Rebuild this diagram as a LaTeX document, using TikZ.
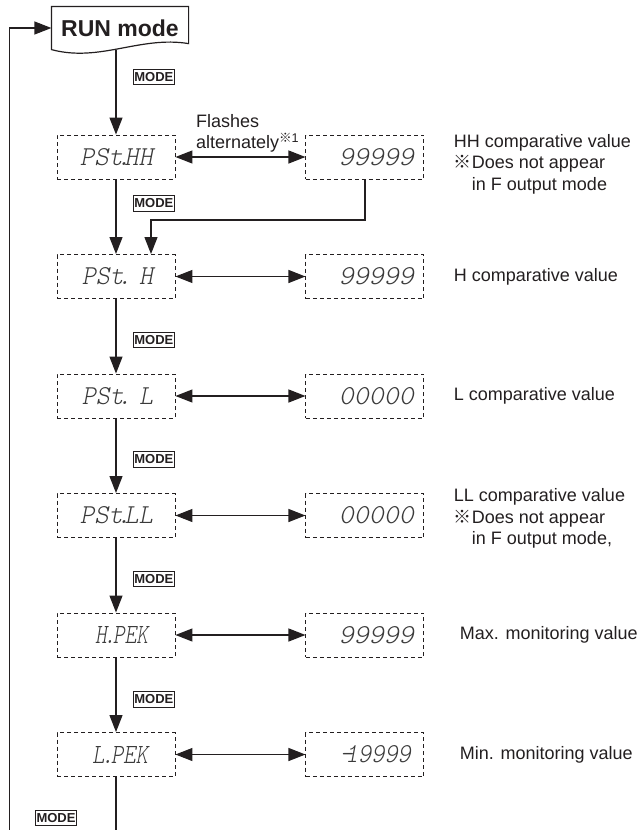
\documentclass[tikz,border=0pt]{standalone}
\usepackage{fontspec}
\usepackage{graphicx}
\setmainfont{Liberation Sans}
\newfontfamily\cjk{Noto Sans CJK JP}
\newfontfamily\segfont{lmmonolt10-regular}[Extension=.otf,FakeSlant=0.2]
\usepackage{tikz}
\usetikzlibrary{arrows.meta,positioning,calc}
\definecolor{ink}{HTML}{231F20}
\definecolor{seg}{HTML}{3A3A3A}
\newcommand{\segdot}[1][6.5pt]{\kern-#1.\kern-#1}
\newcommand{\seg}[2]{\resizebox{#1}{17pt}{#2}}
\newcommand{\segL}[1]{\makebox[74pt][r]{#1}}
\newcommand{\segR}[1]{\makebox[98pt][r]{#1}}

\begin{document}
\begin{tikzpicture}[x=1pt,y=-1pt,color=ink,line width=1.2pt,>={Triangle[length=17pt,width=13pt]}]
\tikzset{disp/.style={draw,dash pattern=on 4pt off 3pt,line width=0.9pt,minimum width=118pt,minimum height=44pt,text=seg,font=\segfont\fontsize{28}{28}\selectfont}, dispL/.style={disp,inner xsep=22pt}, dispR/.style={disp,inner xsep=10pt}, desc/.style={inner sep=0pt,align=left,font=\fontsize{18}{21.5}\selectfont}, modekey/.style={draw,line width=0.8pt,inner xsep=1pt,inner ysep=3pt,font=\bfseries\fontsize{13}{13}\selectfont}}
\useasboundingbox (0,0) rectangle (640,830);
% RUN mode document box
\node[inner sep=0pt,minimum width=136pt,minimum height=42pt,font=\bfseries\fontsize{23}{23}\selectfont] (run) at (120,28) {RUN mode};
\draw (run.north west) -- (run.north east) -- ([yshift=6pt]run.south east) .. controls ([xshift=20pt,yshift=14pt]run.south) and ([xshift=-20pt,yshift=-13pt]run.south) .. (run.south west) -- cycle;
% parameter displays
\node[dispL] (hh) at (116,157) {\segL{\seg{73pt}{PSt\segdot HH}}};
\node[dispL,below=74.6pt of hh] (h) {\segL{\seg{71pt}{PSt\segdot\hphantom{H}H}}};
\node[dispL,below=74.6pt of h] (l) {\segL{\seg{71pt}{PSt\segdot\hphantom{L}L}}};
\node[dispL,below=74.6pt of l] (ll) {\segL{\seg{73pt}{PSt\segdot LL}}};
\node[dispL,below=74.6pt of ll] (hp) {\segL{\seg{53pt}{H\segdot[3.5pt]PEK}\hspace{5pt}}};
\node[dispL,below=74.6pt of hp] (lp) {\segL{\seg{56pt}{L\segdot[3.5pt]PEK}\hspace{5pt}}};
% value displays
\node[dispR,right=130pt of hh] (hhv) {\segR{\seg{75pt}{99999}}};
\node[dispR,right=130pt of h] (hv) {\segR{\seg{75pt}{99999}}};
\node[dispR,right=130pt of l] (lv) {\segR{\seg{75pt}{00000}}};
\node[dispR,right=130pt of ll] (llv) {\segR{\seg{75pt}{00000}}};
\node[dispR,right=130pt of hp] (hpv) {\segR{\seg{75pt}{99999}}};
\node[dispR,right=130pt of lp] (lpv) {\segR{\seg{71pt}{-\kern-9pt19999}\hspace{3pt}}};
% descriptions
\node[desc,yshift=-7pt,right=29pt of hhv] (dhh) {HH comparative value\\{\cjk ※}Does not appear\\\phantom{\cjk ※}in F output mode};
\node[desc,right=29pt of hv] (dh) {H comparative value};
\node[desc,right=29pt of lv] (dl) {L comparative value};
\node[desc,yshift=-3pt,right=29pt of llv] (dll) {LL comparative value\\{\cjk ※}Does not appear\\\phantom{\cjk ※}in F output mode,};
\node[desc,right=35pt of hpv] (dhp) {Max. monitoring value};
\node[desc,right=35pt of lpv] (dlp) {Min. monitoring value};
\node[desc,anchor=south west] (fl) at ([xshift=20pt,yshift=4pt]hh.east) {Flashes\\alternately\textsuperscript{{\cjk ※}1}};
% MODE keys
\node[modekey,anchor=west] (m0) at ([xshift=17pt,yshift=58pt]hh.north) {MODE};
\node[modekey,anchor=west] (m1) at ([xshift=17pt,yshift=-24pt]hh.south) {MODE};
\node[modekey,anchor=west] (m2) at ([xshift=17pt,yshift=-41pt]h.south) {MODE};
\node[modekey,anchor=west] (m3) at ([xshift=17pt,yshift=-41pt]l.south) {MODE};
\node[modekey,anchor=west] (m4) at ([xshift=17pt,yshift=-41pt]ll.south) {MODE};
\node[modekey,anchor=west] (m5) at ([xshift=17pt,yshift=-42pt]hp.south) {MODE};
\node[modekey] (m6) at (56,818) {MODE};
% connectors
\coordinate (lb) at (9.5,830);
\coordinate (cb) at (116,830);
\draw[->] (run.south -| hh) -- (hh);
\draw[->] (hh) -- (h);
\draw[->] (h) -- (l);
\draw[->] (l) -- (ll);
\draw[->] (ll) -- (hp);
\draw[->] (hp) -- (lp);
\draw (lp) -- (cb);
\draw[->] (lb) |- (run.west);
\draw[->] (hhv.south) |- ([xshift=35pt,yshift=34pt]h.north) -- ([xshift=35pt]h.north);
\foreach \a/\b in {hh/hhv,h/hv,l/lv,ll/llv,hp/hpv,lp/lpv}
  \draw[<->] (\a) -- (\b);
\end{tikzpicture}
\end{document}
